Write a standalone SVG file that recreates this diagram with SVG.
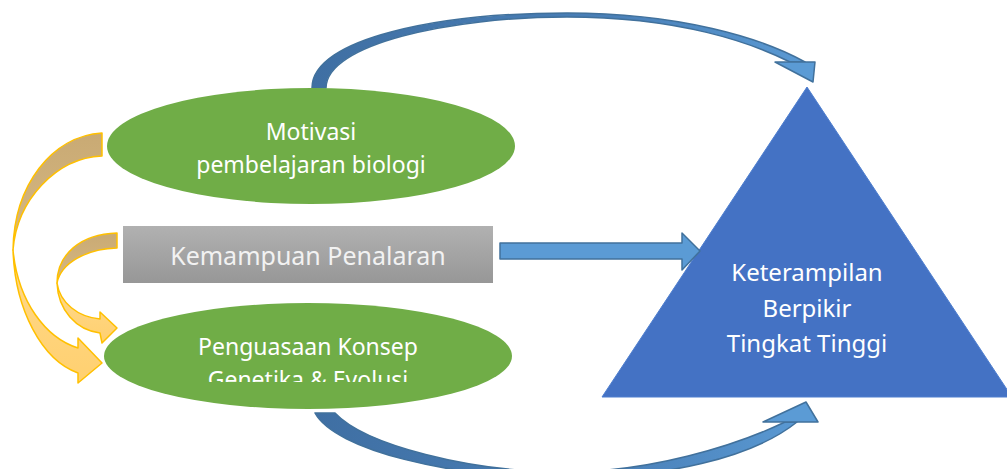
<svg xmlns="http://www.w3.org/2000/svg" width="1007" height="469" viewBox="0 0 1007 469">
<defs>
<style>
.lbl{font-family:"Noto Sans","Open Sans","DejaVu Sans",sans-serif;fill:#ffffff;text-anchor:middle}
.ell{fill:#70ad47}
.yback{fill:url(#tan);stroke:#ffc000;stroke-width:1.5;stroke-linejoin:round}
.yfront{fill:url(#gold);stroke:#ffc000;stroke-width:1.5;stroke-linejoin:round}
.blue{stroke:#41719c;stroke-width:1.5;stroke-linejoin:round}
</style>
<linearGradient id="tan" x1="0" y1="0" x2="0" y2="1">
<stop offset="0" stop-color="#c9aa74"/><stop offset="1" stop-color="#d6b883"/>
</linearGradient>
<linearGradient id="gold" x1="0" y1="0" x2="0" y2="1">
<stop offset="0" stop-color="#ffd98c"/><stop offset="1" stop-color="#ffd070"/>
</linearGradient>
<linearGradient id="gray" x1="0" y1="0" x2="0" y2="1">
<stop offset="0" stop-color="#b1b1b1"/><stop offset="1" stop-color="#979797"/>
</linearGradient>
<linearGradient id="bl1" gradientUnits="userSpaceOnUse" x1="312" y1="0" x2="815" y2="0">
<stop offset="0" stop-color="#3f6fa3"/><stop offset="0.6" stop-color="#4a80b8"/><stop offset="1" stop-color="#5b9bd5"/>
</linearGradient>
<linearGradient id="bl2" gradientUnits="userSpaceOnUse" x1="315" y1="0" x2="818" y2="0">
<stop offset="0" stop-color="#3f6fa3"/><stop offset="0.6" stop-color="#4a80b8"/><stop offset="1" stop-color="#5b9bd5"/>
</linearGradient>
<clipPath id="clipPk"><rect x="0" y="0" width="1007" height="382"/></clipPath>
</defs>

<g id="connectors">
<g id="arrow-motivasi-to-penguasaan">
<path class="yback" d="M102,133 C52,136 14,185 13,250 C17,200 56,158 102,156 Z"/>
<path class="yfront" d="M13,250 C15,310 42,360 78,373 L78,383 L102,363 L78,338 L78,348 C46,338 18,302 13,250 Z"/>
</g>
<g id="arrow-penalaran-to-penguasaan">
<path class="yback" d="M117,233 C80,234 57,255 57,283 C61,263 86,249 117,248 Z"/>
<path class="yfront" d="M57,283 C58,310 76,330 100,333 L102,343 L117,328 L100,312 L100,319 C78,317 60,303 57,283 Z"/>
</g>
<g id="arrow-motivasi-to-hots">
<path class="blue" fill="url(#bl1)" d="M312,88 C312,38 440,13 567,13 C680,13 762,38 805,62 L790,62 C752,43 680,17 567,17 C450,17 326,44 326,88 Z"/>
</g>
<g id="arrow-penguasaan-to-hots">
<path class="blue" fill="url(#bl2)" d="M335,413 C365,445 470,472 565,472 C650,472 735,446 785,422 L797,422 C752,458 665,478 565,478 C450,478 335,450 315,413 Z"/>
</g>
</g>

<g id="node-motivasi">
<ellipse class="ell" cx="311" cy="146" rx="204" ry="58"/>
<text class="lbl" x="311" y="140" font-size="23">Motivasi</text>
<text class="lbl" x="311" y="173" font-size="23">pembelajaran biologi</text>
</g>

<g id="node-penguasaan">
<ellipse class="ell" cx="308" cy="356" rx="204" ry="53"/>
<g clip-path="url(#clipPk)">
<text class="lbl" x="308" y="355" font-size="23">Penguasaan Konsep</text>
<text class="lbl" x="308" y="388" font-size="23">Genetika &amp; Evolusi</text>
</g>
</g>

<g id="node-penalaran">
<rect x="123" y="226" width="370" height="57" fill="url(#gray)"/>
<text class="lbl" x="308" y="265" font-size="25" fill="#f2f2f2" style="fill:#f2f2f2">Kemampuan Penalaran</text>
</g>

<g id="node-hots">
<polygon points="807,87 602,397 1012,397" fill="#4472c4" stroke="#4f7fcf" stroke-width="1"/>
<text class="lbl" x="807" y="281" font-size="24">Keterampilan</text>
<text class="lbl" x="807" y="317" font-size="24">Berpikir</text>
<text class="lbl" x="807" y="352" font-size="24">Tingkat Tinggi</text>
</g>

<g id="connector-heads">
<polygon class="blue" fill="#5b9bd5" points="775,62 815,62 813,82"/>
<polygon class="blue" fill="#5b9bd5" points="763,422 806,402 818,422"/>
<path id="arrow-penalaran-to-hots" class="blue" fill="#5b9bd5" d="M500,243 L682,243 L682,233 L700,251 L682,270 L682,259 L500,259 Z"/>
</g>
</svg>
